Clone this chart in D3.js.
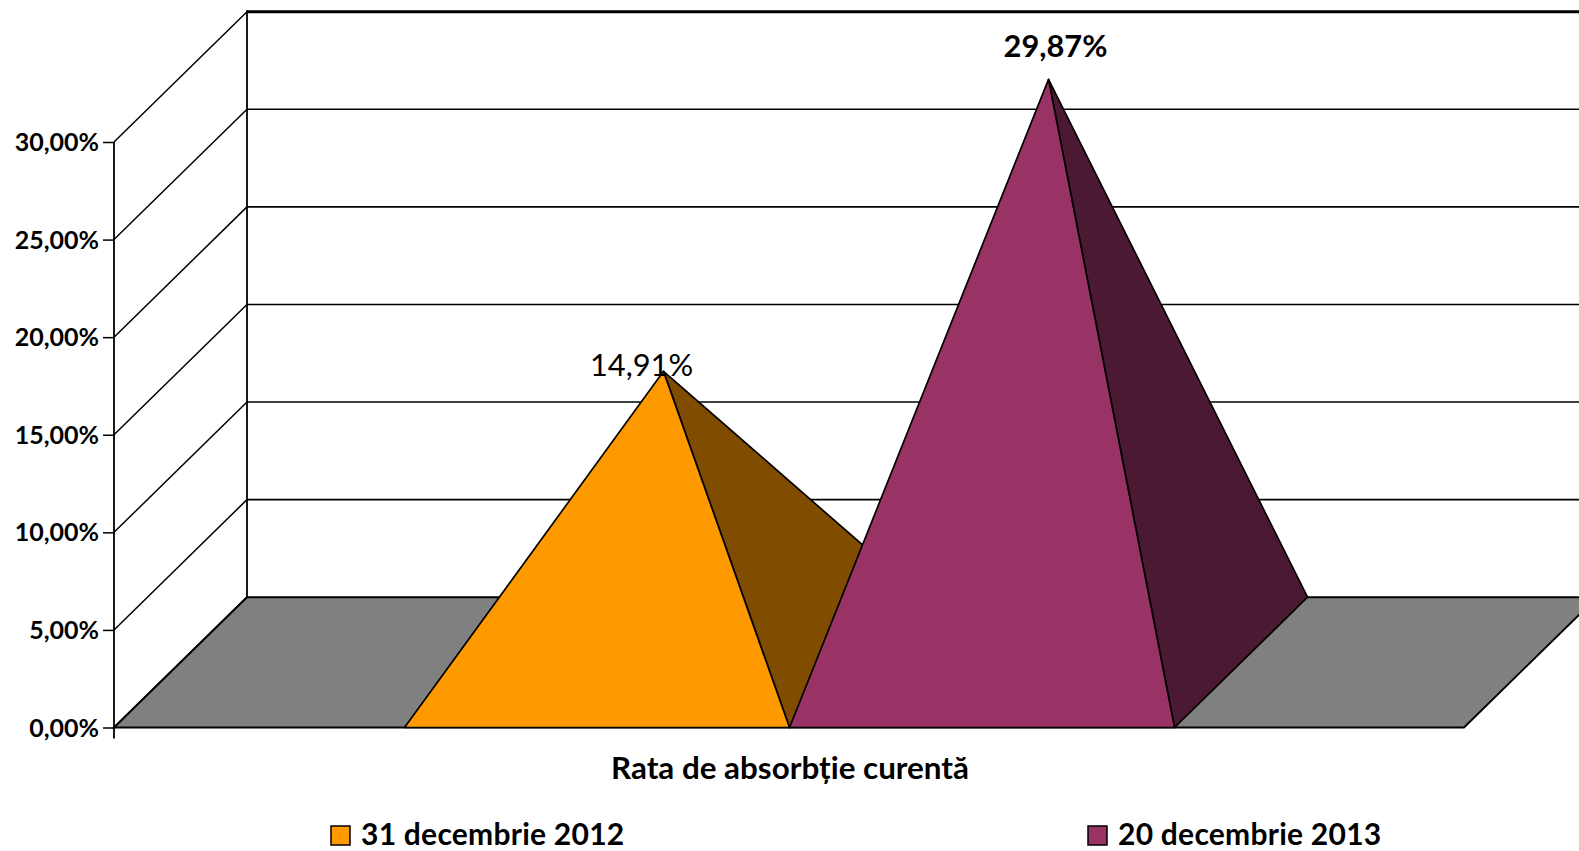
<!DOCTYPE html>
<html>
<head>
<meta charset="utf-8">
<script src="https://cdn.jsdelivr.net/npm/d3@7"></script>
<style>
html,body{margin:0;padding:0;background:#fff;overflow:hidden}
svg{display:block}
text{font-family:Lato,"Open Sans",sans-serif;fill:#000}
</style>
</head>
<body>
<svg id="c" width="1579" height="851"></svg>
<script>
const category = "Rata de absorbție curentă";
const seriesNames = ["31 decembrie 2012", "20 decembrie 2013"];
const seriesValues = [14.91, 29.87];
const valueLabels = ["14,91%", "29,87%"];
const tickValues = [0, 5, 10, 15, 20, 25, 30];
const frontColors = ["#FF9900", "#993366"];
const sideColors = ["#7F4C00", "#4C1933"];

const W = 1579;
const plotLeft = 114, plotRight = 1464, floorFront = 727.5, top30 = 142;
const depthX = 133, depthY = -130.3;

const svg = d3.select("#c");
const y = d3.scaleLinear().domain([0, 30]).range([floorFront, top30]);
const x = d3.scaleBand().domain(seriesNames).range([plotLeft, plotRight]).paddingInner(0).paddingOuter(0.7532).align(0.5009);
const line = d3.line();

// back wall gridlines and side wall diagonals
const grid = svg.append("g").attr("fill", "none").attr("stroke", "#000");
grid.selectAll(".h").data(tickValues.filter(d => d > 0)).join("line")
  .attr("x1", plotLeft + depthX).attr("x2", W)
  .attr("y1", d => y(d) + depthY).attr("y2", d => y(d) + depthY)
  .attr("stroke-width", d => d === 30 ? 3 : 1.6);
grid.selectAll(".d").data(tickValues).join("line")
  .attr("x1", plotLeft).attr("y1", d => y(d))
  .attr("x2", plotLeft + depthX).attr("y2", d => y(d) + depthY)
  .attr("stroke-width", d => d === 0 ? 1.9 : 1.5);
grid.append("line")
  .attr("x1", plotLeft + depthX).attr("x2", plotLeft + depthX)
  .attr("y1", y(30) + depthY - 1.5).attr("y2", y(0) + depthY)
  .attr("stroke-width", 1.8);

// floor
svg.append("path")
  .attr("d", line([[plotLeft, y(0)], [plotLeft + depthX, y(0) + depthY], [plotRight + depthX, y(0) + depthY], [plotRight, y(0)]]) + "Z")
  .attr("fill", "#808080").attr("stroke", "none");
svg.append("path")
  .attr("d", line([[plotRight + depthX, y(0) + depthY], [plotRight, y(0)], [plotLeft, y(0)], [plotLeft + depthX, y(0) + depthY], [plotRight + depthX, y(0) + depthY]]))
  .attr("fill", "none").attr("stroke", "#000").attr("stroke-width", 1.9);

// pyramids
seriesNames.forEach((name, i) => {
  const x0 = x(name), x1 = x0 + x.bandwidth();
  const apex = [(x0 + x1) / 2 + depthX / 2, y(seriesValues[i]) + depthY / 2];
  const g = svg.append("g").attr("stroke", "#000").attr("stroke-width", 1.7).attr("stroke-linejoin", "round");
  g.append("path").attr("fill", sideColors[i])
    .attr("d", line([[x1, y(0)], [x1 + depthX, y(0) + depthY], apex]) + "Z");
  g.append("path").attr("fill", frontColors[i])
    .attr("d", line([[x0, y(0)], [x1, y(0)], apex]) + "Z");
  svg.append("text")
    .attr("x", apex[0] + (i === 0 ? -22 : 7))
    .attr("y", apex[1] + (i === 0 ? 5 : -22))
    .attr("text-anchor", "middle")
    .attr("font-size", 30.8)
    .attr("font-weight", i === 0 ? 400 : 700)
    .text(valueLabels[i]);
});

// value axis
const axis = d3.axisLeft(y).tickValues(tickValues).tickSize(11).tickPadding(4)
  .tickFormat(d => d3.format(".2f")(d).replace(".", ",") + "%");
const ag = svg.append("g").attr("transform", `translate(${plotLeft},0)`).call(axis);
ag.select(".domain").remove();
ag.selectAll(".tick line").attr("stroke", "#000").attr("stroke-width", 1.5);
ag.selectAll(".tick text").attr("font-size", 25).attr("font-weight", 700).attr("dy", "0.34em")
  .style("font-family", "Lato").attr("fill", "#000");
ag.append("line").attr("x1", 0).attr("x2", 0).attr("y1", y(30)).attr("y2", y(0) + 11)
  .attr("stroke", "#000").attr("stroke-width", 1.8);

// category title
svg.append("text").attr("x", 790).attr("y", 779).attr("text-anchor", "middle")
  .attr("font-size", 31.4).attr("font-weight", 700).text(category);

// legend
const legendX = d3.scaleOrdinal().domain(seriesNames).range([331, 1088]);
const lg = svg.append("g").selectAll("g").data(seriesNames).join("g")
  .attr("transform", d => `translate(${legendX(d)},826)`);
lg.append("rect").attr("width", 19).attr("height", 19)
  .attr("fill", (d, i) => frontColors[i]).attr("stroke", "#000").attr("stroke-width", 1.5);
lg.append("text").attr("x", 30).attr("y", 18.8).attr("font-size", 30).attr("letter-spacing", 0.25).attr("font-weight", 700).text(d => d);
</script>
</body>
</html>
